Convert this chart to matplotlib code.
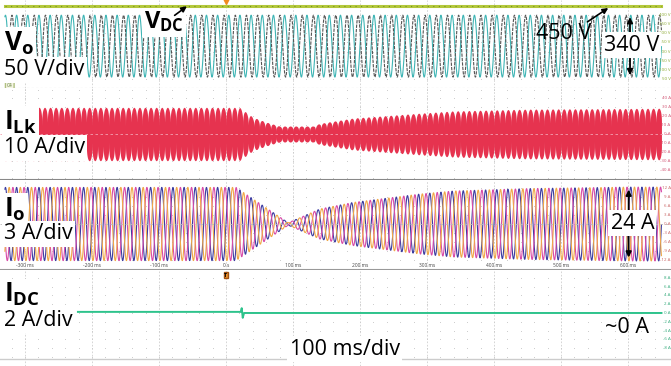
import numpy as np
import matplotlib.pyplot as plt

plt.rcParams['font.family'] = ['Open Sans', 'DejaVu Sans']
plt.rcParams['mathtext.fontset'] = 'custom'
plt.rcParams['mathtext.rm'] = 'Open Sans'
plt.rcParams['mathtext.bf'] = 'Open Sans:bold'

# --- values ---
line_freq = 60            # Hz, output frequency
t_start, t_end = -330, 650  # ms shown on screen

vdc_level = 450           # V
vo_center = 230           # V (channel offset)
vo_peak = 170             # V  (340 V peak-to-peak)
vo_phases = [0, 150]      # deg, two output voltages

# envelope of the leakage inductor current (A peak)
ilk_t = [-330, 20, 40, 60, 80, 130, 140, 190, 290, 340, 450, 650]
ilk_amp = [30, 30, 19, 13.5, 9, 9, 12, 18, 23.5, 26, 28, 29]

# envelope of the three output currents (A peak)
io_t = [-330, 15, 93, 140, 190, 290, 340, 450, 600, 650]
io_amp = [12.2, 12.2, 0.4, 5, 7.2, 10, 11, 11.8, 12.3, 12.3]
io_phases = [0, 120, 240]

# dc input current
idc_t = [-221, 22, 23.5, 25, 27, 650]
idc_val = [0.25, 0.25, 1.1, -1.1, 0.0, 0.0]

time_ticks = [-300, -200, -100, 0, 100, 200, 300, 400, 500, 600]
time_labels = ['-300 ms', '-200 ms', '-100 ms', '0 s', '100 ms', '200 ms',
               '300 ms', '400 ms', '500 ms', '600 ms']

vo_scale = [400, 350, 300, 250, 200, 150, 100, 50]
ilk_scale = [40, 30, 20, 10, 0, -10, -20, -30, -40]
io_scale = [12, 9, 6, 3, 0, -3, -6, -9, -12]
idc_scale = [8, 6, 4, 2, 0, -2, -4, -6, -8]

# --- figure ---
W, H = 671, 366
fig = plt.figure(figsize=(W / 100, H / 100), dpi=100)
fig.patch.set_facecolor('white')
x_right = 663.5  # right edge of the screen in ms


def panel(top, bottom, ylim, step):
    ax = fig.add_axes([0, 1 - bottom / H, 1, (bottom - top) / H])
    ax.set_xlim(-337.3, 664.2)
    ax.set_ylim(*ylim)
    ax.set_xticks([])
    ax.set_yticks([])
    for s in ax.spines.values():
        s.set_visible(False)
    for tk in time_ticks:
        ax.axvline(tk, color='#cfcfcf', lw=0.6, ls=(0, (2, 2)), zorder=0)
    gx = np.arange(-320, 660, 20)
    gy = np.arange(np.ceil(ylim[0] / step) * step, ylim[1], step)
    X, Y = np.meshgrid(gx, gy)
    ax.scatter(X.ravel(), Y.ravel(), s=0.5, color='#cccccc', linewidths=0, zorder=0)
    return ax


def scale_labels(ax, values, unit, color):
    for v in values:
        ax.text(x_right, v, f'{v} {unit}', fontsize=3.2, color=color,
                ha='right', va='center')


box = dict(facecolor='white', edgecolor='none', pad=1.5)
big = 15.5
sym = 19

t = np.arange(t_start, t_end, 0.05)
w = 2 * np.pi * line_freq / 1000.0

# panel 1: output voltages and dc link
ax1 = panel(0, 88, (0, 483.5), 50)
vo_colors = ['#3fb5b5', '#555555']
vo_styles = ['-', (0, (3, 1))]
for ph, c, ls in zip(vo_phases, vo_colors, vo_styles):
    ax1.plot(t, vo_center + vo_peak * np.sin(w * t + np.radians(ph)),
             color=c, lw=0.8, ls=ls, zorder=2)
ax1.plot([t_start, t_end], [vdc_level, vdc_level], color='#b4c83c', lw=2.2, zorder=3)
ax1.plot([t_start, t_end], [vdc_level, vdc_level], color='#6f8f1f', lw=0.8,
         ls=(0, (1, 4)), zorder=3)
ax1.axhline(2, color='#bbbbbb', lw=0.8, ls=(0, (2, 2)))
ax1.plot([0], [476], marker='v', color='#f08a20', ms=5, zorder=4)
ax1.text(-327, 16, 'C4', fontsize=3.5, color='#5a7a30', va='center',
         bbox=dict(facecolor='#f4f4e4', edgecolor='#b0c080', pad=0.8,
                   boxstyle='round,pad=0.3'), zorder=6)
ax1.text(-331, 247, r'$\mathbf{V_o}$', fontsize=sym, va='center', bbox=box, zorder=6)
ax1.text(-331, 99, '50 V/div', fontsize=big, va='center', bbox=box, zorder=6)
ax1.text(-122, 362, r'$\mathbf{V_{DC}}$', fontsize=17, va='center', bbox=box, zorder=6)
ax1.annotate('', xy=(-55, 458), xytext=(-80, 390),
             arrowprops=dict(arrowstyle='-|>', color='black', lw=1.2, mutation_scale=8), zorder=7)
ax1.text(462, 302, '450 V', fontsize=big, va='center', zorder=6)
ax1.annotate('', xy=(574, 448), xytext=(536, 355),
             arrowprops=dict(arrowstyle='-|>', color='black', lw=1.2, mutation_scale=8), zorder=7)
ax1.annotate('', xy=(603, 405), xytext=(603, 55),
             arrowprops=dict(arrowstyle='<|-|>', color='black', lw=1.3, mutation_scale=8), zorder=5)
ax1.text(564, 236, '340 V', fontsize=big, va='center', bbox=box, zorder=6)
scale_labels(ax1, vo_scale, 'V', '#8aa830')

# panel 2: leakage inductor current
ax2 = panel(88, 180, (-51.7, 51.7), 10)
env = np.interp(t, ilk_t, ilk_amp)
teeth = 0.3 + 0.7 * np.abs(np.sin(w * t)) ** 0.3
ax2.fill_between(t, -env * teeth, env * teeth, color='#e6334f', lw=0, zorder=2)
ax2.axhline(0, color='#f3a0b0', lw=0.6, ls=(0, (3, 3)), zorder=3)
ax2.axhline(-51.7, color='#888888', lw=1.5, zorder=3)
ax2.text(-331, 13.5, r'$\mathbf{I_{Lk}}$', fontsize=sym, va='center', bbox=box, zorder=6)
ax2.text(-331, -15.7, '10 A/div', fontsize=big, va='center', bbox=box, zorder=6)
scale_labels(ax2, ilk_scale, 'A', '#d05070')

# panel 3: output currents
ax3 = panel(180, 270, (-15.33, 14.67), 3)
env = np.interp(t, io_t, io_amp)
io_colors = ['#3c3ca0', '#d84ca8', '#f0a848']
for ph, c in zip(io_phases, io_colors):
    ax3.plot(t, env * np.sin(w * t + np.radians(ph)), color=c, lw=0.8, zorder=2)
ax3.axhline(0, color='#bbbbbb', lw=0.6, ls=(0, (3, 3)), zorder=3)
ax3.axhline(-15.33, color='#999999', lw=1.5, zorder=3)
for tk, lb in zip(time_ticks, time_labels):
    ax3.text(tk, -13.7, lb, fontsize=3.5, color='#444444', ha='center', va='center')
ax3.text(-331, 4.9, r'$\mathbf{I_o}$', fontsize=sym, va='center', bbox=box, zorder=6)
ax3.text(-331, -3.3, '3 A/div', fontsize=big, va='center', bbox=box, zorder=6)
ax3.annotate('', xy=(601, 12.4), xytext=(601, -12.1),
             arrowprops=dict(arrowstyle='<|-|>', color='black', lw=1.3, mutation_scale=8), zorder=5)
ax3.text(574, 0.3, '24 A', fontsize=big, va='center', bbox=box, zorder=6)
scale_labels(ax3, io_scale, 'A', '#c86060')

# panel 4: dc current
ax4 = panel(270, 366, (-12.05, 9.77), 2)
ax4.plot(idc_t, idc_val, color='#2ec38c', lw=1.4, zorder=2)
ax4.axhline(-10.45, color='#cccccc', lw=1.0, zorder=3)
ax4.text(0, 8.6, 'T', fontsize=4, color='black', ha='center', va='center', fontweight='bold',
         bbox=dict(facecolor='#e8902c', edgecolor='#a05010', pad=0.6), zorder=6)
ax4.text(-331, 4.2, r'$\mathbf{I_{DC}}$', fontsize=sym, va='center', bbox=box, zorder=6)
ax4.text(-331, -1.6, '2 A/div', fontsize=big, va='center', bbox=box, zorder=6)
ax4.text(566, -3.4, '~0 A', fontsize=big, va='center', zorder=6)
ax4.text(95, -8.2, '100 ms/div', fontsize=big, va='center', bbox=box, zorder=6)
scale_labels(ax4, idc_scale, 'A', '#30a878')

fig.savefig('out.png', dpi=100)
